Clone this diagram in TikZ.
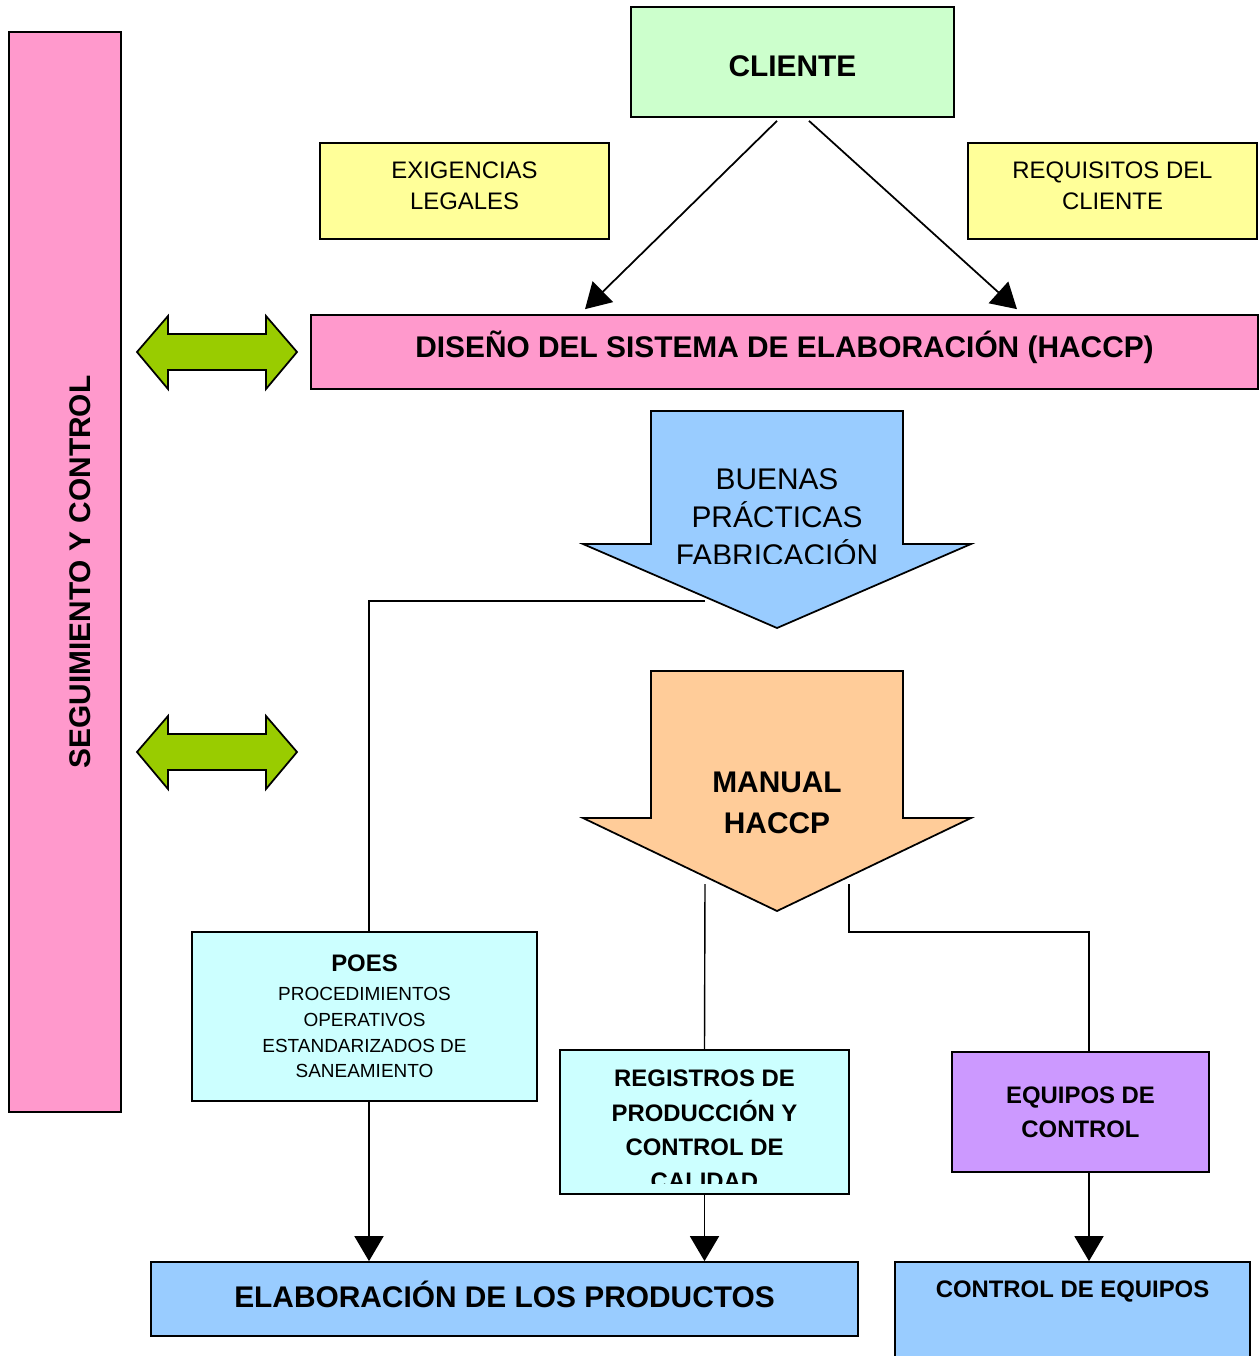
\documentclass[tikz,border=0pt]{standalone}
\usepackage{fontspec}
\setmainfont{Liberation Sans}
\usepackage{xcolor}
\usetikzlibrary{arrows.meta,calc}

\definecolor{verdeclaro}{HTML}{CCFFCC}
\definecolor{amarillo}{HTML}{FFFF99}
\definecolor{rosa}{HTML}{FF99CC}
\definecolor{celeste}{HTML}{99CCFF}
\definecolor{naranja}{HTML}{FFCC99}
\definecolor{cian}{HTML}{CCFFFF}
\definecolor{lila}{HTML}{CC99FF}
\definecolor{verde}{HTML}{99CC00}

\tikzset{
  caja/.style={draw=black,line width=1pt,rectangle,inner sep=0pt,align=center},
  flecha/.style={-{Triangle[length=0.5cm,width=0.58cm]},line width=1pt},
  linea/.style={line width=0.8pt},
  negrita/.style={font=\fontsize{17}{23}\selectfont\bfseries,align=center},
  negritamed/.style={font=\fontsize{13.6}{19.5}\selectfont\bfseries,align=center},
  normal/.style={font=\fontsize{13.6}{17.6}\selectfont,align=center},
  normalgrande/.style={font=\fontsize{17}{21.5}\selectfont,align=center},
  chico/.style={font=\fontsize{10.8}{14.6}\selectfont,align=center},
}

\begin{document}
\begin{tikzpicture}[x=0.02cm,y=-0.02cm]
  \useasboundingbox (0,0) rectangle (1259,1356);
  % Barra lateral de seguimiento
  \node[caja,fill=rosa,minimum width=2.24cm,minimum height=21.6cm] (seguim) at (65,572) {};
  \node[negrita,rotate=90] (seguimtxt) at (80,572) {SEGUIMIENTO Y CONTROL};
  % Cliente y requisitos
  \node[caja,fill=verdeclaro,minimum width=6.46cm,minimum height=2.2cm,negrita,text height=17pt] (cliente) at (792.5,62) {CLIENTE};
  \node[caja,fill=amarillo,minimum width=5.78cm,minimum height=1.92cm,
    label={[normal,yshift=0.1cm]center:EXIGENCIAS\\LEGALES}] (exig) at (464.5,191) {};
  \node[caja,fill=amarillo,minimum width=5.78cm,minimum height=1.92cm,
    label={[normal,yshift=0.1cm]center:REQUISITOS DEL\\CLIENTE}] (requi) at (1112.5,191) {};
  \node[caja,fill=rosa,minimum width=18.94cm,minimum height=1.48cm,
    label={[negrita,yshift=0.1cm]center:DISEÑO DEL SISTEMA DE ELABORACIÓN (HACCP)}] (diseno) at (784.5,352) {};
  \draw[flecha] ([xshift=-0.31cm,yshift=-0.06cm]cliente.south) -- ([xshift=-3.99cm,yshift=0.1cm]diseno.north);
  \draw[flecha] ([xshift=0.33cm,yshift=-0.06cm]cliente.south) -- ([xshift=4.65cm,yshift=0.1cm]diseno.north);
  % Flechas dobles verdes
  \foreach \y in {352,752}{
    \draw[line width=1pt,fill=verde] (137,\y) -- (168,\y-36) -- (168,\y-18) -- (266,\y-18) -- (266,\y-36)
      -- (297,\y) -- (266,\y+37) -- (266,\y+18) -- (168,\y+18) -- (168,\y+37) -- cycle;
  }
  % Flechas de bloque
  \draw[line width=1pt,fill=celeste] (651,411) -- (903,411) -- (903,544) -- (971,544) -- (777,628)
    -- (583,544) -- (651,544) -- cycle;
  \begin{scope}
    \clip (600,420) rectangle (960,563);
    \node[normalgrande] (buenas) at (777,517) {BUENAS\\PRÁCTICAS\\FABRICACIÓN};
  \end{scope}
  \draw[line width=1pt,fill=naranja] (651,671) -- (903,671) -- (903,818) -- (971,818) -- (777,911)
    -- (583,818) -- (651,818) -- cycle;
  \node[negrita] (manual) at (777,803) {MANUAL\\HACCP};
  % Cajas inferiores
  \node[caja,fill=cian,minimum width=6.9cm,minimum height=3.38cm,chico] (poes) at (364.5,1016.5)
    {{\fontsize{13.6}{16}\selectfont\bfseries POES}\\[2pt]
     PROCEDIMIENTOS\\OPERATIVOS\\ESTANDARIZADOS DE\\SANEAMIENTO};
  \node[caja,fill=cian,minimum width=5.78cm,minimum height=2.88cm] (regis) at (704.5,1122) {};
  \begin{scope}
    \clip (562,1052) rectangle (847,1183);
    \node[negritamed] (registxt) at (704.5,1130) {REGISTROS DE\\PRODUCCIÓN Y\\CONTROL DE\\CALIDAD};
  \end{scope}
  \node[caja,fill=lila,minimum width=5.14cm,minimum height=2.4cm,negritamed] (equipos) at (1080.5,1112) {EQUIPOS DE\\CONTROL};
  \node[caja,fill=celeste,minimum width=14.14cm,minimum height=1.48cm,
    label={[negrita,yshift=0.1cm]center:ELABORACIÓN DE LOS PRODUCTOS}] (elab) at (504.5,1299) {};
  \node[caja,fill=celeste,minimum width=7.1cm,minimum height=2.0cm] (ctrleq) at (1072.5,1312) {};
  \node[negritamed] (ctrleqtxt) at (1072.5,1291) {CONTROL DE EQUIPOS};
  % Conectores
  \coordinate (bpf) at (705,601);
  \coordinate (mhA) at (705,884);
  \coordinate (mhB) at (849,884);
  \coordinate (poesN) at ([xshift=0.09cm]poes.north);
  \coordinate (poesS) at ([xshift=0.09cm]poes.south);
  \coordinate (equiN) at ([xshift=0.17cm]equipos.north);
  \coordinate (equiS) at ([xshift=0.17cm]equipos.south);
  \draw[linea] (bpf) -| (poesN);
  \draw[linea] (mhA) -- (regis.north);
  \draw[linea] (mhB) -- ++(0,48) -| (equiN);
  \draw[flecha] (poesS) -- (poesS |- elab.north);
  \draw[flecha] (regis.south) -- (regis.south |- elab.north);
  \draw[flecha] (equiS) -- (equiS |- ctrleq.north);
\end{tikzpicture}
\end{document}
